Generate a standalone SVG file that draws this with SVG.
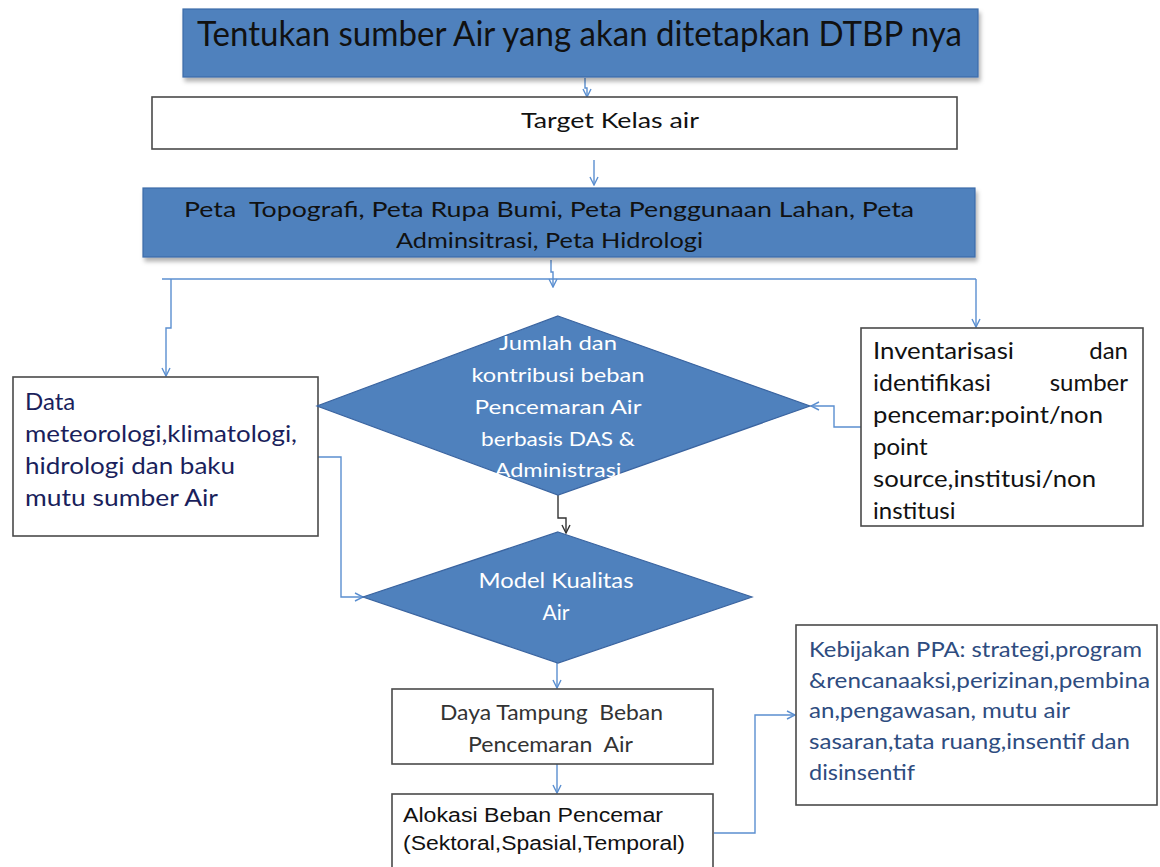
<svg xmlns="http://www.w3.org/2000/svg" width="1160" height="867" viewBox="0 0 1160 867">
<style>
  .blue{fill:#4F81BD;stroke:#3D6CA8;stroke-width:1.2}
  .box{fill:#FFFFFF;stroke:#4A4A4A;stroke-width:1.6}
  .dia{fill:#4F81BD;stroke:#3A64A0;stroke-width:1.2}
  .t{font-family:Lato,"Open Sans","Liberation Sans",sans-serif;white-space:pre}
  .blk{fill:#111111}
  .wht{fill:#FFFFFF}
  .navy{fill:#1A1F5C}
  .kb{fill:#2E4C80}
  .gray{fill:#333333}
  .ar{font-family:"Liberation Sans",Arial,sans-serif;fill:#111111}
  .c{fill:none;stroke:#5B8FD0;stroke-width:1.4}
  .cd{fill:none;stroke:#333333;stroke-width:1.4}
</style>
<defs>
  <filter id="sh" x="-5%" y="-20%" width="110%" height="150%">
    <feDropShadow dx="2" dy="4" stdDeviation="2" flood-color="#000000" flood-opacity="0.3"/>
  </filter>
  <marker id="ah" viewBox="0 0 10 10" refX="9" refY="5" markerWidth="10" markerHeight="10" markerUnits="userSpaceOnUse" orient="auto">
    <path d="M1,1 L9,5 L1,9" fill="none" stroke="#5B8FD0" stroke-width="1.4"/>
  </marker>
  <marker id="ahd" viewBox="0 0 10 10" refX="9" refY="5" markerWidth="10" markerHeight="10" markerUnits="userSpaceOnUse" orient="auto">
    <path d="M1,1 L9,5 L1,9" fill="none" stroke="#333333" stroke-width="1.4"/>
  </marker>
</defs>
<rect width="1160" height="867" fill="#FFFFFF"/>

<g id="connectors">
  <path class="c" d="M585,78 L585,88 L587,88 L587,97" marker-end="url(#ah)"/>
  <path class="c" d="M594,160 L594,185" marker-end="url(#ah)"/>
  <path class="c" d="M551,260 L551,272 L553,272 L553,287" marker-end="url(#ah)"/>
  <path class="c" d="M162,279 L976,279"/>
  <path class="c" d="M171,279 L171,328 L166,328 L166,376" marker-end="url(#ah)"/>
  <path class="c" d="M976,279 L976,327" marker-end="url(#ah)"/>
  <path class="c" d="M861,427 L834,427 L834,406 L811,406" marker-end="url(#ah)"/>
  <path class="cd" d="M558,495 L558,518 L566,518 L566,533" marker-end="url(#ahd)"/>
  <path class="c" d="M318,457 L341,457 L341,597 L363,597" marker-end="url(#ah)"/>
  <path class="c" d="M557,663 L557,688" marker-end="url(#ah)"/>
  <path class="c" d="M557,764 L557,793" marker-end="url(#ah)"/>
  <path class="c" d="M714,833 L755,833 L755,715 L795,715" marker-end="url(#ah)"/>
</g>

<g id="n-title">
  <rect class="blue" x="183" y="9" width="795" height="68" filter="url(#sh)"/>
  <text class="t blk" x="197" y="46" font-size="34" textLength="765" lengthAdjust="spacingAndGlyphs">Tentukan sumber Air yang akan ditetapkan DTBP nya</text>
</g>

<g id="n-target">
  <rect class="box" x="152" y="97" width="805" height="52"/>
  <text class="t blk" x="521" y="128" font-size="21" textLength="178" lengthAdjust="spacingAndGlyphs">Target Kelas air</text>
</g>

<g id="n-peta">
  <rect class="blue" x="143" y="188" width="832" height="69" filter="url(#sh)"/>
  <text class="t blk" x="184" y="217" font-size="21" textLength="730" lengthAdjust="spacingAndGlyphs">Peta  Topografi, Peta Rupa Bumi, Peta Penggunaan Lahan, Peta</text>
  <text class="t blk" x="396" y="248" font-size="21" textLength="307" lengthAdjust="spacingAndGlyphs">Adminsitrasi, Peta Hidrologi</text>
</g>

<g id="n-data">
  <rect class="box" x="13" y="377" width="305" height="159"/>
  <text class="t navy" x="25" y="410" font-size="24">Data</text>
  <text class="t navy" x="25" y="442" font-size="24" textLength="272" lengthAdjust="spacingAndGlyphs">meteorologi,klimatologi,</text>
  <text class="t navy" x="25" y="474" font-size="24" textLength="210" lengthAdjust="spacingAndGlyphs">hidrologi dan baku</text>
  <text class="t navy" x="25" y="506" font-size="24" textLength="193" lengthAdjust="spacingAndGlyphs">mutu sumber Air</text>
</g>

<g id="n-jumlah">
  <polygon class="dia" points="558,316 810,406 558,495 317,406"/>
  <g class="t wht" font-size="20" text-anchor="middle">
    <text x="558" y="350" textLength="118" lengthAdjust="spacingAndGlyphs">Jumlah dan</text>
    <text x="558" y="382" textLength="173" lengthAdjust="spacingAndGlyphs">kontribusi beban</text>
    <text x="558" y="414" textLength="167" lengthAdjust="spacingAndGlyphs">Pencemaran Air</text>
    <text x="558" y="446" textLength="154" lengthAdjust="spacingAndGlyphs">berbasis DAS &amp;</text>
    <text x="558" y="477" textLength="127" lengthAdjust="spacingAndGlyphs">Administrasi</text>
  </g>
</g>

<g id="n-inventarisasi">
  <rect class="box" x="861" y="328" width="282" height="198"/>
  <g class="t blk" font-size="24">
    <text x="873" y="359" textLength="141" lengthAdjust="spacingAndGlyphs">Inventarisasi</text>
    <text x="1128" y="359" text-anchor="end">dan</text>
    <text x="873" y="391" textLength="118" lengthAdjust="spacingAndGlyphs">identifikasi</text>
    <text x="1128" y="391" text-anchor="end">sumber</text>
    <text x="873" y="423" textLength="230" lengthAdjust="spacingAndGlyphs">pencemar:point/non</text>
    <text x="873" y="455">point</text>
    <text x="873" y="487" textLength="223" lengthAdjust="spacingAndGlyphs">source,institusi/non</text>
    <text x="873" y="519">institusi</text>
  </g>
</g>

<g id="n-model">
  <polygon class="dia" points="558,532 752,597 558,663 363,597"/>
  <text class="t wht" x="556" y="588" font-size="21" text-anchor="middle" textLength="155" lengthAdjust="spacingAndGlyphs">Model Kualitas</text>
  <text class="t wht" x="556" y="620" font-size="21" text-anchor="middle">Air</text>
</g>

<g id="n-daya">
  <rect class="box" x="392" y="689" width="321" height="75"/>
  <text class="t gray" x="440" y="720" font-size="21" textLength="223" lengthAdjust="spacingAndGlyphs">Daya Tampung  Beban</text>
  <text class="t gray" x="468" y="752" font-size="21" textLength="165" lengthAdjust="spacingAndGlyphs">Pencemaran  Air</text>
</g>

<g id="n-alokasi">
  <rect class="box" x="392" y="794" width="321" height="90"/>
  <text class="ar" x="403" y="822" font-size="20" textLength="260" lengthAdjust="spacingAndGlyphs">Alokasi Beban Pencemar</text>
  <text class="ar" x="403" y="850" font-size="20" textLength="282" lengthAdjust="spacingAndGlyphs">(Sektoral,Spasial,Temporal)</text>
</g>

<g id="n-kebijakan">
  <rect class="box" x="796" y="625" width="361" height="180"/>
  <g class="t kb" font-size="21">
    <text x="809" y="657" textLength="333" lengthAdjust="spacingAndGlyphs">Kebijakan PPA: strategi,program</text>
    <text x="809" y="688" textLength="341" lengthAdjust="spacingAndGlyphs">&amp;rencanaaksi,perizinan,pembina</text>
    <text x="809" y="718" textLength="261" lengthAdjust="spacingAndGlyphs">an,pengawasan, mutu air</text>
    <text x="809" y="749" textLength="321" lengthAdjust="spacingAndGlyphs">sasaran,tata ruang,insentif  dan</text>
    <text x="809" y="780" textLength="106" lengthAdjust="spacingAndGlyphs">disinsentif</text>
  </g>
</g>
</svg>
